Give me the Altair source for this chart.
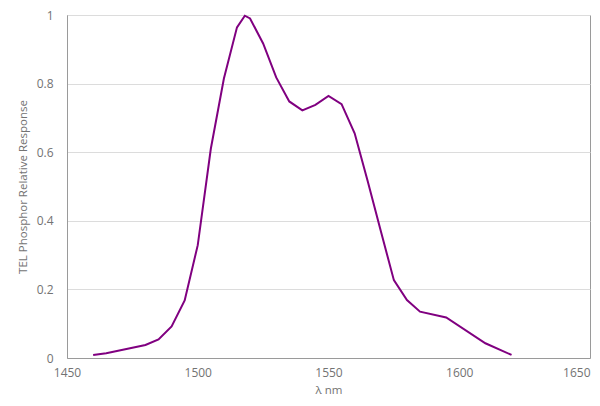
import altair as alt
import pandas as pd

wavelength = [1460, 1465, 1480, 1485, 1490, 1495, 1500, 1505, 1510, 1515, 1518, 1520,
              1525, 1530, 1535, 1540, 1545, 1550, 1555, 1560, 1565, 1570, 1575, 1580,
              1585, 1595, 1610, 1620]
response = [0.009, 0.014, 0.038, 0.054, 0.092, 0.168, 0.329, 0.61, 0.815, 0.964, 0.998, 0.99,
            0.917, 0.818, 0.748, 0.722, 0.738, 0.764, 0.74, 0.655, 0.515, 0.37, 0.227, 0.169,
            0.135, 0.118, 0.043, 0.009]

x_ticks = [1450, 1500, 1550, 1600, 1650]
y_ticks = [0, 0.2, 0.4, 0.6, 0.8, 1]

df = pd.DataFrame({"wl": wavelength, "resp": response})

FONT = "Open Sans"
TXT = "#737373"

chart = alt.Chart(df).mark_line(color="#800080", strokeWidth=2).encode(
    x=alt.X("wl:Q",
            scale=alt.Scale(domain=[1450, 1650], nice=False, zero=False),
            axis=alt.Axis(values=x_ticks, format="d", grid=False, ticks=False, title="λ nm",
                          labelAlign=alt.expr("datum.value == 1650 ? 'right' : 'center'"),
                          labelPadding=9, titlePadding=6)),
    y=alt.Y("resp:Q",
            scale=alt.Scale(domain=[0, 1], nice=False),
            axis=alt.Axis(values=y_ticks, format="~g", grid=True, ticks=False,
                          labelPadding=14, title="TEL Phosphor Relative Response",
                          titlePadding=8)),
).properties(
    width=523, height=343,
    autosize=alt.AutoSizeParams(type="none"),
    padding={"left": 59, "top": 7, "right": 2, "bottom": 40},
).configure_axis(
    labelFont=FONT, titleFont=FONT, labelFontSize=12, titleFontSize=11.5,
    labelColor=TXT, titleColor=TXT, titleFontWeight="normal",
    domainColor="#9a9a9a", domainWidth=1, gridColor="#dcdcdc", gridWidth=1,
).configure_view(
    stroke="#9a9a9a", strokeWidth=1,
)

chart.save("out.html", embed_options={"renderer": "svg", "actions": False})
